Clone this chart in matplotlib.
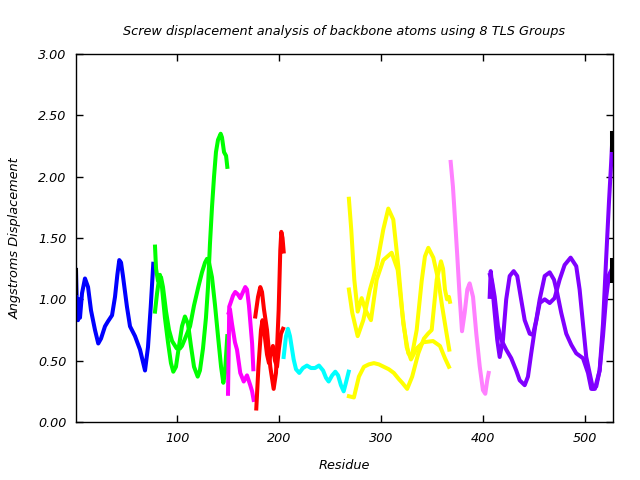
import matplotlib
matplotlib.use("Agg")
import matplotlib.pyplot as plt

# residue numbers / screw displacement (Angstroms)
blue_res = [1, 2, 3, 3.9, 4.9, 6.9, 9.8, 12.8, 15.7, 19.6, 22.8, 25.5, 29.4, 32.3, 36.3, 39.2, 41.5, 43.4, 45.1, 47.0,
            50.9, 53.9, 58.8, 63.7, 68.6, 71.5, 74.2, 76.7]
blue_val = [1.24, 0.90, 0.83, 1.00, 0.85, 1.05, 1.17, 1.10, 0.91, 0.75, 0.64, 0.68, 0.78, 0.82, 0.87, 1.02, 1.20, 1.32,
            1.30, 1.19, 0.94, 0.78, 0.70, 0.59, 0.42, 0.61, 0.94, 1.29]

green_a_res = [78.4, 79.4, 81.3, 83.2, 85.2, 88.1, 91.1, 94.0, 96.3, 98.9, 101.9, 104.8, 107.7, 110.7, 113.6, 116.6,
               120.2, 122.4, 125.4, 128.3, 130.3, 132.2, 134.2, 136.2, 138.1, 140.1, 142.7, 144.0, 146.0, 148.0, 149.2]
green_a_val = [1.43, 1.25, 1.15, 1.20, 1.10, 0.85, 0.65, 0.48, 0.41, 0.45, 0.62, 0.78, 0.86, 0.80, 0.62, 0.45,
               0.37, 0.42, 0.60, 0.85, 1.10, 1.45, 1.75, 2.00, 2.20, 2.30, 2.35, 2.32, 2.20, 2.17, 2.08]
green_b_res = [78.4, 80.4, 82.3, 84.3, 86.2, 89.2, 92.1, 95.1, 99.6, 102.9, 104.8, 108.8, 112.7, 116.6, 120.8, 124.4,
               127.4, 129.3, 131.3, 134.2, 137.2, 140.1, 143.1, 145.3, 146.9, 149.2]
green_b_val = [0.90, 1.05, 1.16, 1.18, 1.10, 0.90, 0.75, 0.66, 0.60, 0.60, 0.62, 0.70, 0.78, 0.95, 1.10, 1.22,
               1.30, 1.33, 1.30, 1.18, 0.95, 0.70, 0.45, 0.32, 0.40, 0.70]

magenta_a_res = [149.9, 150.6, 151.1, 152.8, 154.8, 157.0, 159.6, 161.9, 164.6, 166.8, 168.5, 170.4, 171.9, 173.5, 174.7]
magenta_a_val = [0.23, 0.60, 0.94, 0.98, 1.03, 1.06, 1.04, 1.01, 1.06, 1.10, 1.08, 0.95, 0.80, 0.64, 0.43]
magenta_b_res = [150.6, 151.8, 153.8, 156.7, 158.7, 161.9, 165.3, 168.5, 171.7, 173.5, 175.0]
magenta_b_val = [0.89, 0.92, 0.80, 0.65, 0.59, 0.40, 0.33, 0.38, 0.30, 0.25, 0.18]

red_a_res = [176.6, 179.3, 181.5, 183.2, 185.1, 188.1, 191.3, 194.6, 196.9, 199.5, 201.1, 202.1, 203.3, 204.4]
red_a_val = [0.86, 1.02, 1.10, 1.06, 0.92, 0.75, 0.45, 0.27, 0.40, 0.91, 1.40, 1.55, 1.50, 1.39]
red_b_res = [177.6, 179.7, 182.2, 183.7, 185.6, 188.1, 190.0, 192.0, 193.9, 195.9, 197.9, 199.8, 201.8, 203.8]
red_b_val = [0.11, 0.45, 0.75, 0.83, 0.72, 0.55, 0.48, 0.58, 0.62, 0.50, 0.45, 0.60, 0.72, 0.76]

cyan_res = [204.4, 206.7, 208.6, 210.6, 214.2, 216.5, 219.7, 223.3, 227.2, 231.2, 235.1, 239.0, 243.0, 245.9, 248.5,
            251.9, 255.0, 257.7, 260.5, 263.2, 265.4, 268.1]
cyan_val = [0.53, 0.70, 0.76, 0.70, 0.51, 0.43, 0.40, 0.44, 0.46, 0.44, 0.44, 0.46, 0.42, 0.36, 0.33,
            0.38, 0.41, 0.38, 0.30, 0.25, 0.32, 0.41]

yellow_a_res = [268.3, 270.6, 273.6, 276.9, 280.8, 284.7, 289.9, 295.5, 302.0, 310.2, 316.1, 320.6, 324.9, 329.1,
                334.7, 341.2, 350.7, 357.5, 362.4, 366.3]
yellow_a_val = [1.82, 1.57, 1.16, 0.90, 1.01, 0.91, 0.83, 1.16, 1.32, 1.38, 1.24, 0.89, 0.61, 0.51,
                0.60, 0.65, 0.66, 0.62, 0.52, 0.45]
yellow_b_res = [268.3, 271.6, 276.9, 282.4, 288.9, 295.5, 302.0, 306.9, 311.8, 316.7, 321.6, 326.5, 329.8, 334.7,
                339.6, 342.8, 346.1, 351.0, 355.8, 359.5, 363.4, 366.6]
yellow_b_val = [1.08, 0.89, 0.70, 0.83, 1.08, 1.27, 1.57, 1.74, 1.65, 1.27, 0.80, 0.56, 0.53, 0.75,
                1.15, 1.35, 1.42, 1.34, 1.16, 0.95, 0.75, 0.59]
yellow_c_res = [268.3, 273.2, 278.1, 283.0, 287.9, 292.8, 297.6, 302.5, 307.4, 312.3, 317.2, 320.5, 325.4, 330.3,
                336.3, 341.8, 345.8, 349.4, 354.3, 358.5, 360.5, 362.4, 364.4, 366.3, 367.3]
yellow_c_val = [0.21, 0.20, 0.37, 0.45, 0.47, 0.48, 0.47, 0.45, 0.43, 0.40, 0.35, 0.32, 0.27, 0.37,
                0.56, 0.68, 0.72, 0.75, 1.16, 1.31, 1.25, 1.08, 1.00, 1.02, 0.98]

pink_res = [368.0, 370.2, 372.5, 374.5, 376.8, 379.1, 381.7, 384.3, 386.6, 389.9, 393.1, 396.5, 399.6, 401.9, 403.8, 405.2]
pink_val = [2.12, 1.92, 1.62, 1.35, 1.02, 0.74, 0.89, 1.08, 1.13, 1.02, 0.72, 0.45, 0.26, 0.23, 0.34, 0.40]

purple_a_res = [406.2, 407.2, 408.5, 411.1, 413.6, 416.0, 419.2, 422.4, 425.8, 429.7, 433.2, 436.6, 440.5, 445.4,
                448.6, 451.8, 455.2, 460.1, 465.0, 469.2, 472.4, 476.3, 481.2, 486.1, 491.0, 497.6, 502.5, 505.7,
                509.3, 513.9, 517.2, 520.1, 523.1, 526.0]
purple_a_val = [1.02, 1.23, 1.13, 0.89, 0.67, 0.53, 0.67, 1.00, 1.19, 1.23, 1.19, 1.02, 0.83, 0.72,
                0.71, 0.83, 1.00, 1.19, 1.22, 1.16, 1.05, 0.89, 0.72, 0.63, 0.56, 0.52, 0.40, 0.27,
                0.27, 0.42, 0.70, 1.00, 1.20, 1.25]
purple_b_res = [406.5, 408.5, 411.1, 414.3, 417.6, 422.4, 427.3, 432.2, 435.6, 440.5, 443.7, 446.9, 450.8, 455.2,
                460.1, 465.0, 469.8, 474.7, 479.6, 485.5, 491.0, 494.3, 497.6, 500.8, 504.1, 507.4, 510.6, 513.9,
                517.2, 520.1, 523.1, 525.1, 526.0]
purple_b_val = [1.20, 1.15, 1.02, 0.78, 0.67, 0.59, 0.52, 0.42, 0.34, 0.30, 0.37, 0.56, 0.78, 0.97,
                1.00, 0.97, 1.01, 1.16, 1.28, 1.34, 1.27, 1.08, 0.80, 0.53, 0.40, 0.27, 0.29, 0.42,
                0.80, 1.30, 1.80, 2.10, 2.25]

black_res = [[1, 1], [526.5, 526.5], [526.5, 526.5]]
black_val = [[1.05, 1.24], [2.22, 2.36], [1.15, 1.32]]

curves = [
    (blue_res, blue_val, "#0000ff"),
    (green_a_res, green_a_val, "#00ff00"),
    (green_b_res, green_b_val, "#00ff00"),
    (magenta_a_res, magenta_a_val, "#ff00ff"),
    (magenta_b_res, magenta_b_val, "#ff00ff"),
    (red_a_res, red_a_val, "#ff0000"),
    (red_b_res, red_b_val, "#ff0000"),
    (cyan_res, cyan_val, "#00ffff"),
    (yellow_a_res, yellow_a_val, "#ffff00"),
    (yellow_b_res, yellow_b_val, "#ffff00"),
    (yellow_c_res, yellow_c_val, "#ffff00"),
    (pink_res, pink_val, "#ff80ff"),
    (purple_a_res, purple_a_val, "#8000ff"),
    (purple_b_res, purple_b_val, "#8000ff"),
]

fig = plt.figure(figsize=(6.4, 4.8), dpi=100)
ax = fig.add_axes([76 / 640, 1 - 422 / 480, (613 - 76) / 640, (422 - 54) / 480])

for res, val, col in curves:
    ax.plot(res, val, color=col, lw=2.9)
for res, val in zip(black_res, black_val):
    ax.plot(res, val, color="black", lw=2.9)

ax.set_xlim(1, 527)
ax.set_ylim(0, 3)
ax.set_xticks([100, 200, 300, 400, 500])
ax.set_yticks([0, 0.5, 1, 1.5, 2, 2.5, 3])
ax.set_yticklabels(["%.2f" % t for t in ax.get_yticks()])
ax.tick_params(direction="in", length=5, width=1, top=True, right=True, labelsize=9.2, pad=7)
for lab in ax.get_xticklabels() + ax.get_yticklabels():
    lab.set_fontstyle("italic")
for sp in ax.spines.values():
    sp.set_linewidth(1)

ax.set_title("Screw displacement analysis of backbone atoms using 8 TLS Groups",
             fontsize=9.3, style="italic", pad=14)
ax.set_xlabel("Residue", fontsize=9.3, style="italic", labelpad=10)
ax.set_ylabel("Angstroms Displacement", fontsize=9.3, style="italic", labelpad=12)

fig.savefig("out.png", dpi=100)
